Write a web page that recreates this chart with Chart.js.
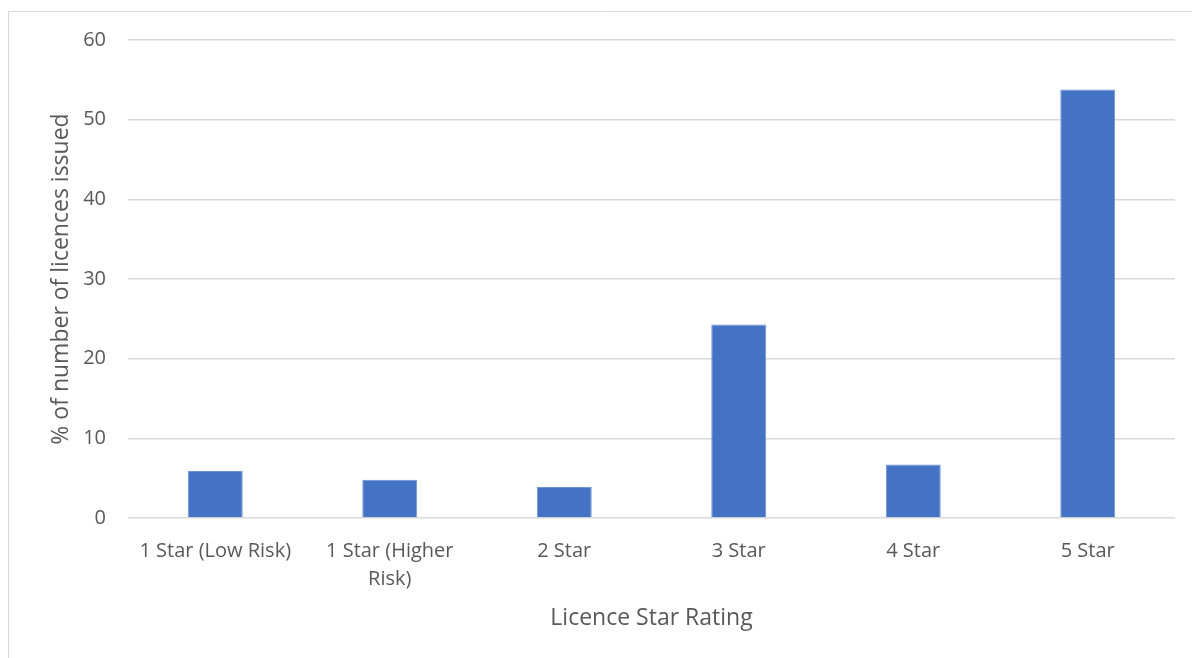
<!DOCTYPE html>
<html>
<head>
<meta charset="utf-8">
<script src="https://cdn.jsdelivr.net/npm/chart.js@4"></script>
<style>
  html, body { margin: 0; padding: 0; background: #fff; }
  #wrap { width: 1192px; height: 658px; }
</style>
</head>
<body>
<div id="wrap"><canvas id="ratingChart"></canvas></div>
<script>
const categories = ['1 Star (Low Risk)', ['1 Star (Higher', 'Risk)'], '2 Star', '3 Star', '4 Star', '5 Star'];
const percentIssued = [5.9, 4.8, 3.9, 24.3, 6.7, 53.8];
const yTicks = [0, 10, 20, 30, 40, 50, 60];

const textColor = '#595959';
const gridColor = '#d9d9d9';
const fontFamily = '"Open Sans", sans-serif';

// thin frame along the top and left edge
const framePlugin = {
    id: 'frame',
    beforeDraw(chart) {
        const c = chart.ctx;
        c.save();
        c.strokeStyle = gridColor;
        c.lineWidth = 1;
        c.beginPath();
        c.moveTo(8.5, chart.height);
        c.lineTo(8.5, 11.5);
        c.lineTo(chart.width, 11.5);
        c.stroke();
        c.restore();
    }
};

new Chart(document.getElementById('ratingChart'), {
    type: 'bar',
    data: {
        labels: categories,
        datasets: [{
            data: percentIssued,
            backgroundColor: '#4472c4',
            borderColor: '#6f93d3',
            borderWidth: 1,
            barPercentage: 0.315,
            categoryPercentage: 1
        }]
    },
    options: {
        responsive: true,
        maintainAspectRatio: false,
        animation: false,
        layout: { padding: { top: 40, right: 17, bottom: 22, left: 44 } },
        plugins: {
            legend: { display: false },
            tooltip: { enabled: false }
        },
        scales: {
            x: {
                grid: { display: false },
                border: { display: false },
                ticks: {
                    color: textColor,
                    font: { family: fontFamily, size: 20, lineHeight: 1.4 },
                    padding: 11,
                    maxRotation: 0,
                    autoSkip: false
                },
                title: {
                    display: true,
                    text: 'Licence Star Rating',
                    color: textColor,
                    font: { family: fontFamily, size: 23 },
                    padding: { top: 4, bottom: 4 }
                },
                afterFit(scale) { scale.height = 118; }
            },
            y: {
                min: 0,
                max: 60,
                afterBuildTicks(scale) {
                    scale.ticks = yTicks.map(v => ({ value: v }));
                },
                grid: { color: gridColor, lineWidth: 1.5, drawTicks: false },
                border: { display: false },
                ticks: {
                    color: textColor,
                    font: { family: fontFamily, size: 20 },
                    padding: 22
                },
                title: {
                    display: true,
                    text: '% of number of licences issued',
                    color: textColor,
                    font: { family: fontFamily, size: 23 }
                },
                afterFit(scale) { scale.width = 84; }
            }
        }
    },
    plugins: [framePlugin]
});
</script>
</body>
</html>
